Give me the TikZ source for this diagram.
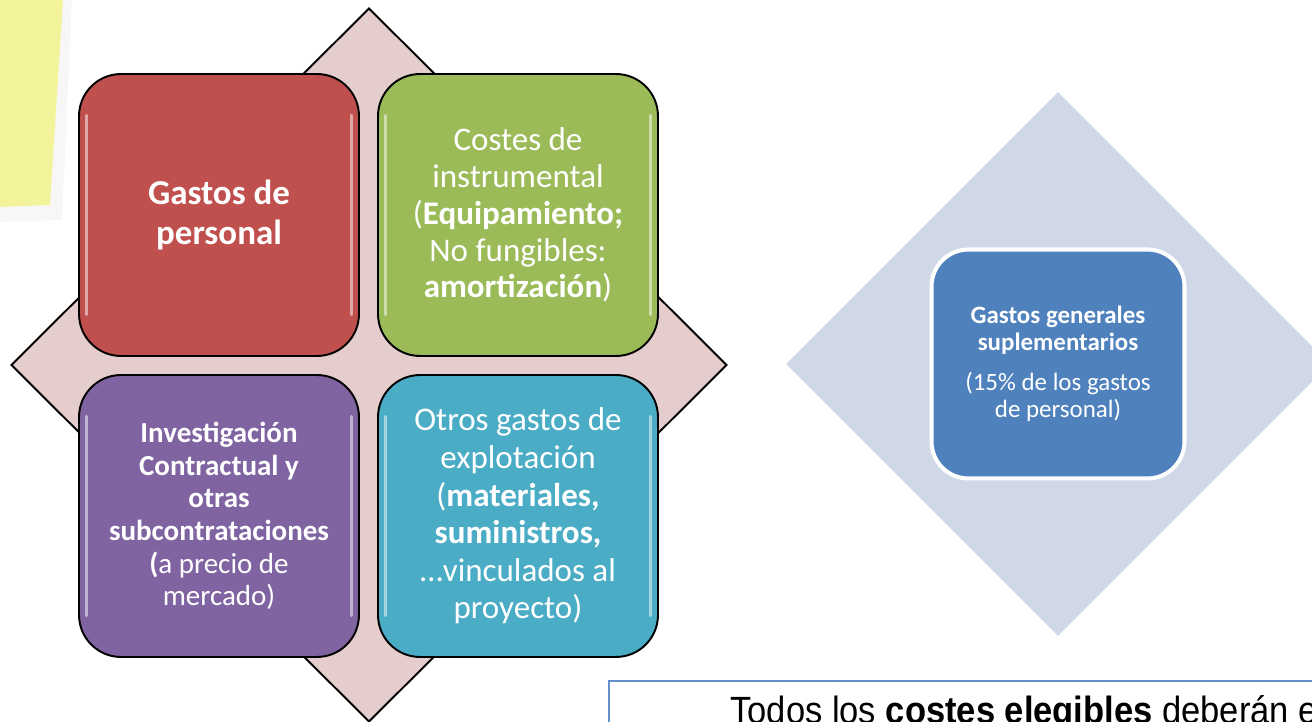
\documentclass[tikz,border=0pt]{standalone}
\usepackage{fontspec}
\setmainfont{Carlito}
\newfontfamily\arialn[FakeStretch=0.91]{Liberation Sans}
\usetikzlibrary{shapes.geometric}
\definecolor{tilered}{RGB}{192,80,77}
\definecolor{tilegreen}{RGB}{155,187,89}
\definecolor{tilepurple}{RGB}{128,100,162}
\definecolor{tileteal}{RGB}{75,172,198}
\definecolor{tileblue}{RGB}{79,129,189}
\definecolor{backpink}{RGB}{230,205,205}
\definecolor{backblue}{RGB}{208,216,232}
\definecolor{sticky}{RGB}{243,243,155}
\definecolor{noteline}{RGB}{100,143,204}
\tikzset{
  tile/.style={rectangle, rounded corners=23.9pt, draw=black, line width=1.1pt,
    text=white, align=center, minimum width=5.6cm, minimum height=5.64cm, inner sep=0pt},
  gloss/.style={white, opacity=.5, line width=1.6pt, line cap=round},
}

\begin{document}
\begin{tikzpicture}[x=0.02cm, y=-0.02cm]
	\useasboundingbox (0,0) rectangle (1312,722);
	\clip (0,0) rectangle (1312,722);
	\fill[black!3] (50,0) -- (72,0) -- (62,220) -- (0,222) -- (0,207) -- cycle;
	\fill[sticky] (0,0) -- (63,0) -- (50,205) -- (0,207) -- cycle;
	\node (back) [diamond, draw=black, line width=1.1pt, fill=backpink, inner sep=0pt,
	  minimum width=14.32cm, minimum height=14.28cm] at (369,365) {};
	\node (LT) [tile, fill=tilered, font=\fontsize{19.9pt}{23.3pt}\selectfont] at (219,215)
	  {\textbf{Gastos de}\\ \textbf{personal}};
	\node (RT) [tile, fill=tilegreen, font=\fontsize{18.8pt}{21pt}\selectfont] at (518,215)
	  {Costes de\\ instrumental\\ (\textbf{Equipamiento;}\\ No fungibles:\\ \textbf{amortización})};
	\node (LB) [tile, fill=tilepurple, font=\fontsize{16.5pt}{18.6pt}\selectfont] at (219,516)
	  {\textbf{Investigación}\\ \textbf{Contractual y}\\ \textbf{otras}\\ \textbf{subcontrataciones}\\ \textbf{(}a precio de\\ mercado)};
	\node (RB) [tile, fill=tileteal, font=\fontsize{18.8pt}{21.4pt}\selectfont] at (518,516)
	  {Otros gastos de\\ explotación\\ (\textbf{materiales,}\\ \textbf{suministros,}\\ \dots vinculados al\\ proyecto)};
	\foreach \t in {LT,RT,LB,RB} {
	  \draw[gloss] ([xshift=4.6pt,yshift=-24pt]\t.north west) -- ([xshift=4.6pt,yshift=24pt]\t.south west);
	  \draw[gloss] ([xshift=-4.6pt,yshift=-24pt]\t.north east) -- ([xshift=-4.6pt,yshift=24pt]\t.south east);
	}
	\node (side) [diamond, fill=backblue, inner sep=0pt,
	  minimum width=10.88cm, minimum height=10.88cm] at (1058,364) {};
	\node (GG) [rectangle, rounded corners=21pt, fill=tileblue, draw=white, line width=2.3pt,
	  text=white, align=center, minimum width=5.06cm, minimum height=4.58cm,
	  font=\fontsize{14.2pt}{15.4pt}\selectfont] at (1058,364)
	  {\textbf{Gastos generales}\\ \textbf{suplementarios}\\[7.4pt] (15\% de los gastos\\ de personal)};
	\draw[noteline, line width=1.1pt, fill=white] (609,681) rectangle (1330,760);
	\node (note) [anchor=base west, inner sep=0pt] at (730,723)
	  {\arialn\fontsize{21.6pt}{26pt}\selectfont Todos los \textbf{costes elegibles} deberán e};
\end{tikzpicture}
\end{document}
